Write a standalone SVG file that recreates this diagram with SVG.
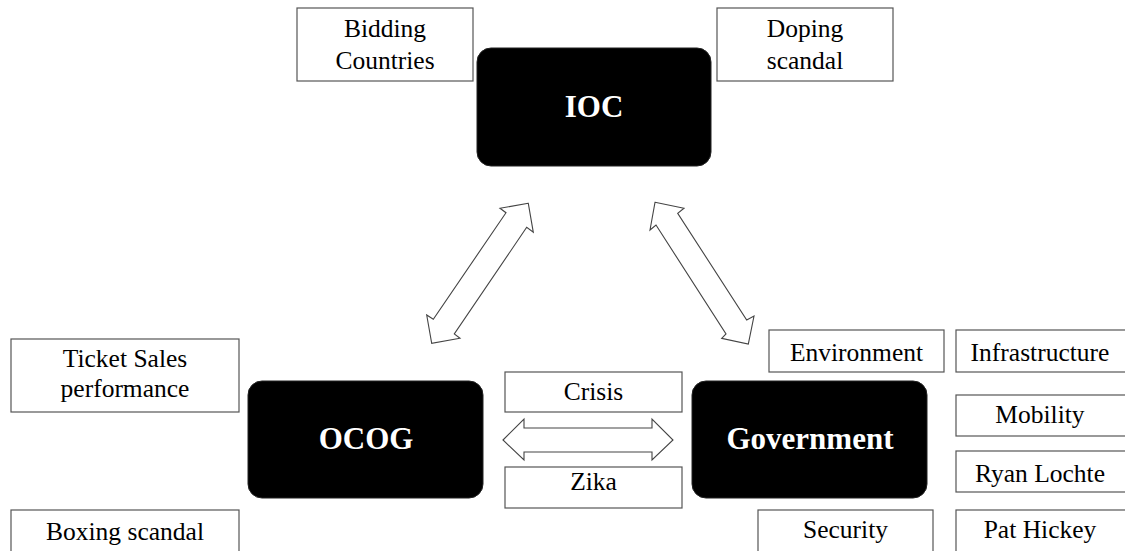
<svg xmlns="http://www.w3.org/2000/svg" width="1125" height="551" viewBox="0 0 1125 551">
<style>
.box{fill:#fff;stroke:#555;stroke-width:1.2}
.t{font-size:25.5px;fill:#000;text-anchor:middle}
.main{fill:#000;stroke:#222;stroke-width:1}
.mt{font-size:31px;font-weight:bold;fill:#fff;text-anchor:middle}
.arr{fill:#fff;stroke:#444;stroke-width:1.1;stroke-linejoin:miter}
</style>
<rect width="1125" height="551" fill="#fff"/>
<g id="connectors">
<polygon class="arr" points="528.3,203.3 500,208.3 506,212.7 433.3,319.3 426.7,315 431.7,343.3 460,338.3 454.3,334 526.7,227.3 533.3,232.3"/>
<polygon class="arr" points="655,202.3 684,208.3 677.7,213.3 746.7,320 754,316 748.3,344 721.7,338.3 726,334 656,225 650,230"/>
<polygon class="arr" points="503,440 524,419 524,428 652,428 652,419 673,440 652,460 652,452 524,452 524,460"/>
</g>
<g id="ioc"><rect class="main" x="477" y="48" width="234" height="118" rx="14"/><text class="mt" font-family="Liberation Serif" x="594" y="117">IOC</text></g>
<g id="ocog"><rect class="main" x="248" y="381" width="235" height="117" rx="14"/><text class="mt" font-family="Liberation Serif" x="366" y="449">OCOG</text></g>
<g id="government"><rect class="main" x="692" y="381" width="235" height="117" rx="14"/><text class="mt" font-family="Liberation Serif" x="810" y="449">Government</text></g>
<g id="bidding"><rect class="box" x="297" y="8" width="176" height="73"/><text class="t" font-family="Liberation Serif" x="385" y="37">Bidding</text><text class="t" font-family="Liberation Serif" x="385" y="69">Countries</text></g>
<g id="doping"><rect class="box" x="717" y="8" width="176" height="73"/><text class="t" font-family="Liberation Serif" x="805" y="37">Doping</text><text class="t" font-family="Liberation Serif" x="805" y="69">scandal</text></g>
<g id="ticket"><rect class="box" x="11" y="339" width="228" height="73"/><text class="t" font-family="Liberation Serif" x="125" y="367">Ticket Sales</text><text class="t" font-family="Liberation Serif" x="125" y="397">performance</text></g>
<g id="boxing"><rect class="box" x="11" y="510" width="228" height="50"/><text class="t" font-family="Liberation Serif" x="125" y="540">Boxing scandal</text></g>
<g id="crisis"><rect class="box" x="505" y="372" width="177" height="40"/><text class="t" font-family="Liberation Serif" x="593.5" y="400">Crisis</text></g>
<g id="zika"><rect class="box" x="505" y="467" width="177" height="41"/><text class="t" font-family="Liberation Serif" x="593.5" y="490">Zika</text></g>
<g id="environment"><rect class="box" x="769" y="330" width="175" height="42"/><text class="t" font-family="Liberation Serif" x="856.5" y="361">Environment</text></g>
<g id="infrastructure"><rect class="box" x="956" y="330" width="180" height="42"/><text class="t" font-family="Liberation Serif" x="1040" y="361">Infrastructure</text></g>
<g id="mobility"><rect class="box" x="956" y="395" width="180" height="41"/><text class="t" font-family="Liberation Serif" x="1040" y="423">Mobility</text></g>
<g id="ryan"><rect class="box" x="956" y="451" width="180" height="41"/><text class="t" font-family="Liberation Serif" x="1040" y="482">Ryan Lochte</text></g>
<g id="security"><rect class="box" x="758" y="510" width="175" height="50"/><text class="t" font-family="Liberation Serif" x="845.5" y="538">Security</text></g>
<g id="pat"><rect class="box" x="956" y="510" width="180" height="50"/><text class="t" font-family="Liberation Serif" x="1040" y="538">Pat Hickey</text></g>
</svg>
